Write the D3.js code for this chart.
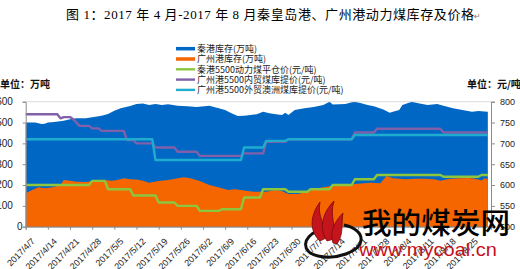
<!DOCTYPE html>
<html><head><meta charset="utf-8">
<script src="https://cdn.jsdelivr.net/npm/d3@7"></script>
<style>html,body{margin:0;padding:0;background:#fff;overflow:hidden}svg{display:block}</style>
</head><body>
<svg id="c" width="520" height="269"></svg>
<script>
// ---------- data ----------
const titleText = "图 1：2017 年 4 月-2017 年 8 月秦皇岛港、广州港动力煤库存及价格";
const seriesNames = ["秦港库存(万吨)", "广州港库存(万吨)", "秦港5500动力煤平仓价(元/吨)", "广州港5500内贸煤库提价(元/吨)", "广州港5500外贸澳洲煤库提价(元/吨)"];
const leftTicks = [0, 100, 200, 300, 400, 500, 600];
const rightTicks = [500, 550, 600, 650, 700, 750, 800];
const xTickDates = ["4/7","4/14","4/21","4/28","5/5","5/12","5/19","5/26","6/2","6/9","6/16","6/23","6/30","7/7","7/14","7/21","7/28","8/4","8/11","8/18","8/25"];

const qhdStockDates = ["4/7","4/10","4/12","4/13","4/14","4/16","4/19","4/21","4/23","4/26","4/28","5/1","5/3","5/5","5/7","5/10","5/12","5/14","5/16","5/18","5/20","5/22","5/25","5/28","5/31","6/4","6/7","6/9","6/11","6/13","6/15","6/17","6/19","6/21","6/23","6/25","6/27","6/28","6/29","7/1","7/4","7/7","7/10","7/12","7/13","7/15","7/17","7/19","7/20","7/22","7/24","7/26","7/29","7/31","8/1","8/3","8/4","8/7","8/9","8/12","8/15","8/17","8/20","8/23","8/26","8/28","8/31"];
const qhdStock = [500,500,493,494,500,503,508,516,520,520,525,532,541,557,568,579,589,591,584,589,584,588,581,578,575,580,568,560,544,531,533,536,540,552,545,540,536,547,536,560,568,575,584,600,586,588,589,597,600,592,584,578,563,547,552,560,584,600,592,584,589,581,568,560,552,555,552];

const gzStockDates = ["4/7","4/9","4/11","4/13","4/15","4/17","4/18","4/19","4/21","4/23","4/26","4/28","4/30","5/2","5/4","5/6","5/8","5/10","5/12","5/14","5/16","5/19","5/22","5/25","5/27","5/29","6/1","6/4","6/8","6/10","6/12","6/14","6/16","6/18","6/22","6/25","6/27","6/29","7/2","7/5","7/8","7/11","7/13","7/16","7/19","7/22","7/25","7/28","7/30","8/1","8/5","8/8","8/11","8/14","8/16","8/19","8/22","8/25","8/27","8/29","8/30","8/31"];
const gzStock = [160,176,189,184,188,195,200,224,221,216,214,218,224,224,221,224,232,228,226,220,211,219,224,232,237,232,219,200,184,176,180,176,171,168,168,176,170,157,157,168,184,192,197,200,204,207,211,208,243,232,228,230,230,228,221,230,232,234,230,222,232,228];

const qhdPriceDates = ["4/7","4/27","4/28","5/2","5/3","5/10","5/11","5/18","5/19","5/24","5/25","5/31","6/1","6/7","6/8","6/14","6/15","6/20","6/21","6/28","6/29","7/5","7/6","7/12","7/13","7/19","7/20","7/26","7/27","8/16","8/17","8/28","8/29","8/31"];
const qhdPrice = [600,600,610,610,590,590,575,575,558,558,550,550,538,538,542,542,570,570,590,590,584,584,590,590,600,600,614,614,624,624,620,620,624,624];

const gzDomDates = ["4/7","4/17","4/18","4/19","4/21","4/22","4/24","4/27","4/28","4/30","5/1","5/8","5/9","5/11","5/12","5/17","5/18","5/24","5/25","5/31","6/1","6/14","6/15","6/21","6/22","6/28","6/29","7/19","7/20","7/26","7/27","8/16","8/17","8/31"];
const gzDomPrice = [770,770,760,763,763,758,742,742,736,736,730,730,708,708,700,700,690,690,680,680,670,670,676,676,704,704,710,710,726,726,735,735,726,726];

const gzAusDates = ["4/7","5/17","5/18","6/14","6/15","6/21","6/22","6/28","6/29","7/19","7/20","8/31"];
const gzAusPrice = [710,710,660,660,690,690,706,706,710,710,720,720];

const colors = ["#0068c4", "#f56600", "#8cc63f", "#8060a8", "#1eaccf"];

// ---------- chart ----------
const parse = s => d3.timeParse("%Y/%m/%d")("2017/" + s);
const svg = d3.select("#c");
const L = 25.7, R = 491, T = 101.7, B = 226.7;

const x = d3.scaleTime().domain([parse("4/7"), parse("9/1")]).range([L, R]);
const yL = d3.scaleLinear().domain([0, 600]).range([B, T]);
const yR = d3.scaleLinear().domain([500, 800]).range([B, T]);

const toPts = (ds, vs) => ds.map((d, i) => ({ d: parse(d), v: vs[i] }));

const area = ys => d3.area().x(p => x(p.d)).y0(B).y1(p => ys(p.v));
const line = ys => d3.line().x(p => x(p.d)).y(p => ys(p.v));

svg.append("path").datum(toPts(qhdStockDates, qhdStock)).attr("d", area(yL)).attr("fill", colors[0]);
svg.append("path").datum(toPts(gzStockDates, gzStock)).attr("d", area(yL)).attr("fill", colors[1]);
[[qhdPriceDates, qhdPrice, 2], [gzDomDates, gzDomPrice, 3], [gzAusDates, gzAusPrice, 4]].forEach(([ds, vs, ci]) => {
  svg.append("path").datum(toPts(ds, vs)).attr("d", line(yR)).attr("fill", "none")
    .attr("stroke", colors[ci]).attr("stroke-width", 2.4).attr("stroke-linejoin", "round");
});

// axes
const axisColor = "#8c8c8c";
const gL = svg.append("g").attr("transform", `translate(${L},0)`)
  .call(d3.axisLeft(yL).tickValues(leftTicks).tickSize(3).tickFormat(() => ""));
const gR = svg.append("g").attr("transform", `translate(${R},0)`)
  .call(d3.axisRight(yR).tickValues(rightTicks).tickSize(4).tickPadding(5).tickFormat(d3.format("d")));
const gB = svg.append("g").attr("transform", `translate(0,${B})`)
  .call(d3.axisBottom(x).tickValues(xTickDates.map(parse)).tickSize(3).tickFormat(d3.timeFormat("%Y/%-m/%-d")));
[gL, gR, gB].forEach(g => {
  g.select(".domain").attr("stroke", axisColor);
  g.selectAll(".tick line").attr("stroke", axisColor);
  g.selectAll("text").attr("fill", "#222").style("font-family", "Liberation Sans, Arial, sans-serif").style("font-size", "9px");
});
gB.selectAll(".tick text").attr("text-anchor", "end").attr("dy", null)
  .attr("transform", "translate(5,11) rotate(-45)");
// left labels (clipped by picture edge)
svg.append("g").selectAll("text").data(leftTicks).join("text")
  .attr("x", d => d === 0 ? 22.5 : 12.8).attr("y", d => yL(d) + 3.3)
  .attr("text-anchor", "end").attr("fill", "#222")
  .style("font-family", "Liberation Sans, Arial, sans-serif").style("font-size", "10px")
  .text(d => d);
// top border
svg.append("line").attr("x1", L).attr("x2", R).attr("y1", T).attr("y2", T).attr("stroke", "#d0d0d0").attr("stroke-width", 0.8);

// unit labels
svg.append("text").attr("x", 50).attr("y", 88).attr("text-anchor", "end")
  .style("font-family", "Noto Sans CJK SC").style("font-size", "10px").style("font-weight", "bold").attr("fill", "#111").text("单位：万吨");
svg.append("text").attr("x", 467).attr("y", 88)
  .style("font-family", "Noto Sans CJK SC").style("font-size", "10px").style("font-weight", "bold").attr("fill", "#111").text("单位：元/吨");

// legend
const leg = svg.append("g");
seriesNames.forEach((n, i) => {
  const yy = 48.7 + i * 10.3;
  leg.append("line").attr("x1", 176).attr("x2", 195).attr("y1", yy).attr("y2", yy)
    .attr("stroke", colors[i]).attr("stroke-width", i < 2 ? 3.5 : 2.4);
  leg.append("text").attr("x", 197).attr("y", yy + 3.3).attr("fill", "#222")
    .style("font-family", "Noto Sans CJK SC").style("font-size", "9px").text(n);
});

// title
svg.append("text").attr("x", 66).attr("y", 18.5).attr("fill", "#000")
  .attr("textLength", 408).attr("lengthAdjust", "spacing")
  .style("font-family", "Liberation Serif, Noto Sans CJK SC").style("font-size", "13px").text(titleText);
svg.append("text").attr("x", 474).attr("y", 18.5).attr("fill", "#777")
  .style("font-family", "DejaVu Sans").style("font-size", "8px").text("↵");

// watermark
const wm = svg.append("g");
wm.append("path").attr("d", "M 318 231 C 303 236 300 252 318 256 C 336 260 360 252 361 240 C 362 233 354 227 344 225")
  .attr("fill", "none").attr("stroke", "#111").attr("stroke-width", 3);
const flame = [
  "M 320 241 C 308 230 311 214 320 202 C 317 216 325 226 328 237 Z",
  "M 327 241 C 318 228 323 212 334 201 C 329 216 337 228 334 239 Z",
  "M 333 243 C 329 232 335 221 343 213 C 341 225 344 234 337 244 Z"
];
flame.forEach(p => wm.append("path").attr("d", p).attr("fill", "#c4141c").attr("stroke", "#7a0a0e").attr("stroke-width", 0.8));
wm.append("text").attr("x", 362).attr("y", 234).attr("fill", "#000")
  .attr("textLength", 148).attr("lengthAdjust", "spacingAndGlyphs")
  .style("font-family", "Noto Sans CJK SC").style("font-size", "29px").style("font-weight", "500").text("我的煤炭网");
wm.append("text").attr("x", 359).attr("y", 256).attr("fill", "#c8101a")
  .attr("textLength", 138).attr("lengthAdjust", "spacingAndGlyphs")
  .style("font-family", "Liberation Sans, Arial").style("font-size", "19px").text("www.mycoal.cn");
</script>
</body></html>
